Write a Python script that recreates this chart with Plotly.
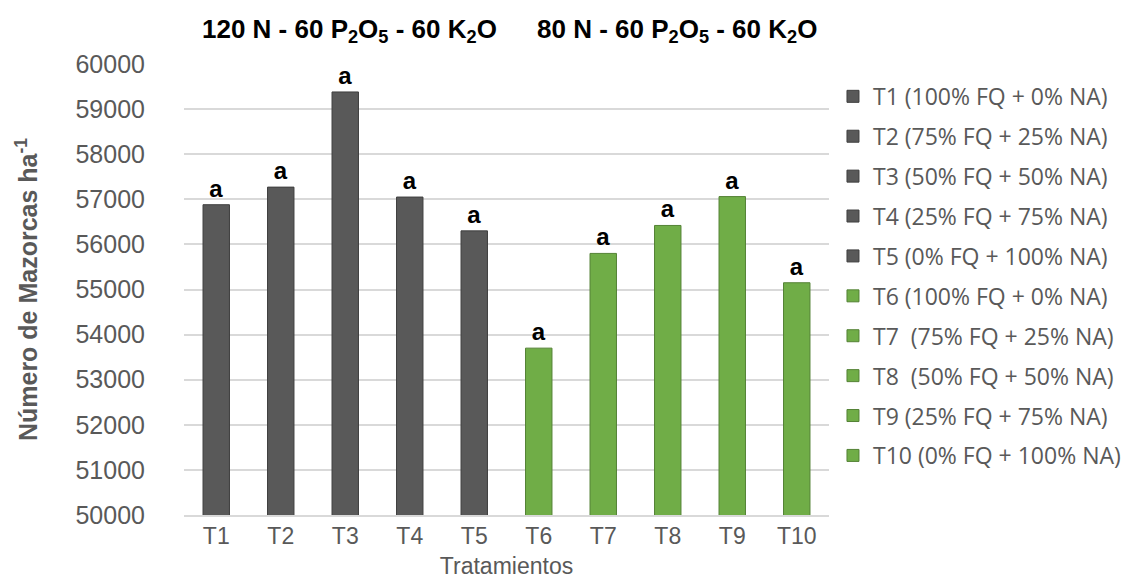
import plotly.graph_objects as go

categories = ["T1", "T2", "T3", "T4", "T5", "T6", "T7", "T8", "T9", "T10"]
values = [56880, 57270, 59380, 57050, 56300, 53700, 55800, 56420, 57060, 55150]
letters = ["a"] * 10
legend_names = [
    "T1 (100% FQ + 0% NA)",
    "T2 (75% FQ + 25% NA)",
    "T3 (50% FQ + 50% NA)",
    "T4 (25% FQ + 75% NA)",
    "T5 (0% FQ + 100% NA)",
    "T6 (100% FQ + 0% NA)",
    "T7  (75% FQ + 25% NA)",
    "T8  (50% FQ + 50% NA)",
    "T9 (25% FQ + 75% NA)",
    "T10 (0% FQ + 100% NA)",
]
groups = ["120", "120", "120", "120", "120", "80", "80", "80", "80", "80"]
group_titles = [
    "120 N - 60 P<sub>2</sub>O<sub>5</sub> - 60 K<sub>2</sub>O",
    "80 N - 60 P<sub>2</sub>O<sub>5</sub> - 60 K<sub>2</sub>O",
]
y_ticks = [50000, 51000, 52000, 53000, 54000, 55000, 56000, 57000, 58000, 59000, 60000]

fill = {"120": "#595959", "80": "#70AD47"}
edge = {"120": "#3F3F3F", "80": "#548235"}

fig = go.Figure()
for i, cat in enumerate(categories):
    g = groups[i]
    fig.add_trace(go.Bar(
        x=[cat], y=[values[i]], name=legend_names[i],
        legendgroup=f"g{i}",
        width=0.41,
        marker=dict(color=fill[g], line=dict(color=edge[g], width=1)),
        text=[letters[i]], textposition="outside",
        textfont=dict(family="Liberation Sans, Arial", size=24, color="#000000"),
        texttemplate="<b>%{text}</b>",
        cliponaxis=False,
    ))

L, R, T, B = 176, 824, 56, 512
W, H = 1130, 579

fig.update_layout(
    width=W, height=H,
    margin=dict(l=L, r=W - R, t=T, b=H - B, pad=0),
    paper_bgcolor="white", plot_bgcolor="white",
    barmode="overlay",
    font=dict(family="Liberation Sans, Arial", color="#595959"),
    showlegend=True,
    legend=dict(
        x=(828 - L) / (R - L), xanchor="left",
        y=(B - 67) / (B - T), yanchor="top",
        font=dict(family="Open Sans", size=23, color="#595959"),
        tracegroupgap=7,
        itemclick=False,
    ),
    xaxis=dict(
        categoryorder="array", categoryarray=categories,
        showgrid=False, showline=True, linecolor="#D9D9D9", linewidth=1.5,
        tickfont=dict(size=23, color="#595959"),
        ticklabelstandoff=0,
        title=dict(text="Tratamientos", font=dict(size=23, color="#595959"), standoff=10),
    ),
    yaxis=dict(
        range=[50000, 60000], tickvals=y_ticks, tickformat="d",
        showgrid=True, gridcolor="#D9D9D9", gridwidth=1.5,
        zeroline=False, showline=False,
        tickfont=dict(size=25, color="#595959"),
        ticklabelstandoff=38,
        title=dict(text="<b>Número de Mazorcas ha<sup>-1</sup></b>",
                   font=dict(size=25, color="#595959"), standoff=30),
    ),
)

fig.add_annotation(text="<b>" + group_titles[0] + "</b>", xref="paper", yref="paper",
                   x=(342 - L) / (R - L), y=(B - 22) / (B - T), xanchor="center", yanchor="middle",
                   showarrow=False, font=dict(family="Liberation Sans, Arial", size=26, color="#000000"))
fig.add_annotation(text="<b>" + group_titles[1] + "</b>", xref="paper", yref="paper",
                   x=(671 - L) / (R - L), y=(B - 22) / (B - T), xanchor="center", yanchor="middle",
                   showarrow=False, font=dict(family="Liberation Sans, Arial", size=26, color="#000000"))

fig.write_html("out.html")
